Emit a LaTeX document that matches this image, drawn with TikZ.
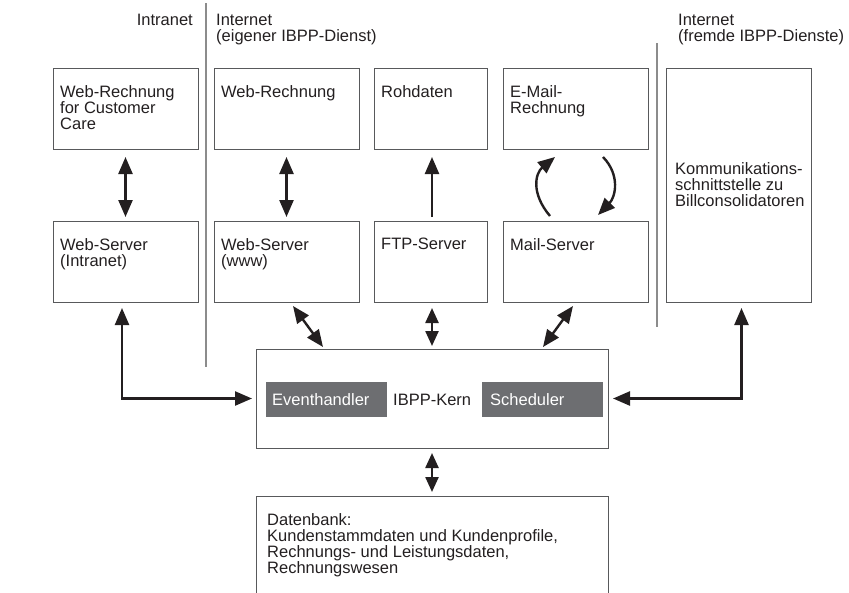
\documentclass[tikz,border=0pt]{standalone}
\usepackage{fontspec}
\setmainfont{Liberation Sans}
\usetikzlibrary{arrows.meta,calc}
\definecolor{ink}{HTML}{231F20}
\definecolor{frame}{HTML}{58595B}
\definecolor{sep}{HTML}{8C8C8C}
\definecolor{darkfill}{HTML}{6D6E71}
\tikzset{
  box/.style={draw=frame, line width=0.9pt, anchor=north west, inner sep=0pt, outer sep=0pt},
  lbl/.style={anchor=north west, inner sep=0pt, align=left, text=ink},
  hdr/.style={inner sep=0pt, align=left, text=ink},
  sepline/.style={draw=sep, line width=1.4pt},
  gbox/.style={fill=darkfill, anchor=west, minimum height=35pt, inner sep=0pt},
  arr/.style={draw=ink, line width=2.4pt, -{Triangle[length=17pt,width=14pt]}},
  dbl/.style={draw=ink, line width=2.4pt, {Triangle[length=17pt,width=14pt]}-{Triangle[length=17pt,width=14pt]}},
  dbls/.style={draw=ink, line width=2.4pt, {Triangle[length=15pt,width=13pt]}-{Triangle[length=15pt,width=13pt]}}
}
\begin{document}
\begin{tikzpicture}[x=1pt,y=-1pt,font=\fontsize{16.5}{16}\selectfont]
\useasboundingbox (0,0) rectangle (849,592);
% separators
\draw[sepline] (206,3) -- (206,367);
\draw[sepline] (657,43) -- (657,327);
% headers
\node[hdr, anchor=north east] (hIntra) at (193,14) {Intranet};
\node[hdr, anchor=north west] (hInt1) at (216,14) {Internet\\(eigener IBPP-Dienst)};
\node[hdr, anchor=north west] (hInt2) at (678,14) {Internet\\(fremde IBPP-Dienste)};
% top row
\node[box, minimum width=145pt, minimum height=81pt] (wrcc) at (53,68) {};
\node[box, minimum width=145pt, minimum height=81pt] (wr) at (214,68) {};
\node[box, minimum width=113pt, minimum height=81pt] (roh) at (374,68) {};
\node[box, minimum width=145pt, minimum height=81pt] (emr) at (503,68) {};
\node[box, minimum width=145pt, minimum height=234pt] (komm) at (666,68) {};
% second row
\node[box, minimum width=145pt, minimum height=81pt] (wsi) at (53,221) {};
\node[box, minimum width=145pt, minimum height=81pt] (wsw) at (214,221) {};
\node[box, minimum width=113pt, minimum height=81pt] (ftp) at (374,221) {};
\node[box, minimum width=145pt, minimum height=81pt] (mail) at (503,221) {};
% core
\node[box, minimum width=352pt, minimum height=99pt] (core) at (256,349) {};
\node[box, minimum width=352pt, minimum height=110pt] (db) at (256,496) {};
% labels
\node[lbl] (twrcc) at ($(wrcc.north west)+(7,17)$) {Web-Rechnung\\for Customer\\Care};
\node[lbl] (twr) at ($(wr.north west)+(7,17)$) {Web-Rechnung};
\node[lbl] (troh) at ($(roh.north west)+(7,17)$) {Rohdaten};
\node[lbl] (temr) at ($(emr.north west)+(7,17)$) {E-Mail-\\Rechnung};
\node[lbl, anchor=west] (tkomm) at ($(komm.west)+(9,0)$) {Kommunikations-\\schnittstelle zu\\Billconsolidatoren};
\node[lbl] (twsi) at ($(wsi.north west)+(7,17)$) {Web-Server\\(Intranet)};
\node[lbl] (twsw) at ($(wsw.north west)+(7,17)$) {Web-Server\\(www)};
\node[lbl] (tftp) at ($(ftp.north west)+(7,17)$) {FTP-Server};
\node[lbl] (tmail) at ($(mail.north west)+(7,17)$) {Mail-Server};
\node[lbl] (tdb) at ($(db.north west)+(11,17)$) {Datenbank:\\Kundenstammdaten und Kundenprofile,\\Rechnungs- und Leistungsdaten,\\Rechnungswesen};
% core inner
\node[gbox, minimum width=121pt] (ev) at (266,399.5) {};
\node[anchor=west, text=white, inner sep=0pt] (tev) at (272,399.5) {Eventhandler};
\node[anchor=west, text=ink, inner sep=0pt] (kern) at (393,399.5) {IBPP-Kern};
\node[gbox, minimum width=121pt] (sch) at (482,399.5) {};
\node[anchor=west, text=white, inner sep=0pt] (tsch) at (490,399.5) {Scheduler};
% arrows
\draw[dbl] ($(wrcc.south)+(0,8)$) -- ($(wsi.north)+(0,-4)$);
\draw[dbl] ($(wr.south)+(0,8)$) -- ($(wsw.north)+(0,-4)$);
\draw[arr] ($(ftp.north)+(1.5,-4)$) -- ($(roh.south)+(1.5,8)$);
\draw[arr] ($(mail.north)+(-25.5,-5)$) .. controls ($(mail.north)+(-45,-28)$) and ($(mail.north)+(-40,-48)$) .. ($(emr.south)+(-20.5,8)$);
\draw[arr] ($(emr.south)+(27.5,8)$) .. controls ($(emr.south)+(45,26)$) and ($(emr.south)+(40,48)$) .. ($(mail.north)+(22.5,-6)$);
\draw[dbl] ($(wsw.south)+(6.5,4)$) -- ($(core.north west)+(67,-2)$);
\draw[dbls] ($(ftp.south)+(1.5,6)$) -- ($(core.north)+(0,-3)$);
\draw[dbl] ($(mail.south)+(-2.5,4)$) -- ($(core.north east)+(-65,-2)$);
\draw[dbls] ($(core.south)+(0,5)$) -- ($(db.north)+(0,-4)$);
\draw[dbl] ($(wsi.south)+(-3.5,6)$) |- ($(core.west)+(-4,0)$);
\draw[dbl] ($(komm.south)+(3,6)$) |- ($(core.east)+(5,0)$);
\end{tikzpicture}
\end{document}
